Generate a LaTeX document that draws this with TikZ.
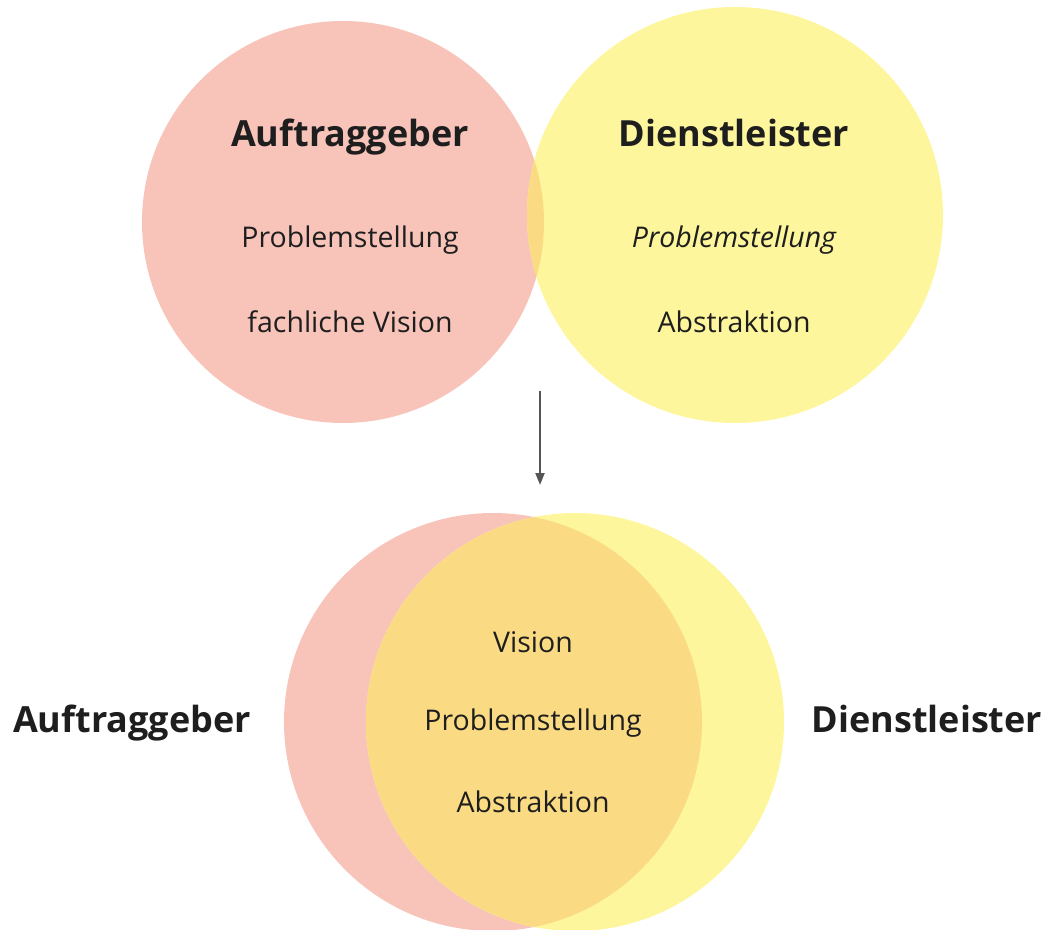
\documentclass[tikz,border=0pt]{standalone}
\usepackage{fontspec}
\setmainfont{Open Sans}
\usetikzlibrary{arrows.meta}
\definecolor{pinkc}{HTML}{F8C4B9}
\definecolor{yellowc}{HTML}{FEF69C}
\definecolor{overc}{HTML}{FADB84}
\definecolor{txt}{HTML}{1E1E1E}
\definecolor{arrowc}{HTML}{555555}
\tikzset{
  title/.style={anchor=base, font=\fontsize{36}{40}\selectfont\bfseries, text=txt},
  item/.style={anchor=base, font=\fontsize{28.5}{32}\selectfont, text=txt},
  itemit/.style={anchor=base, font=\fontsize{28.5}{32}\selectfont\itshape, text=txt},
  conn/.style={draw=arrowc, line width=2pt, -{Triangle[length=12pt,width=9pt]}}
}
\begin{document}
\begin{tikzpicture}[x=1pt,y=-1pt]
\useasboundingbox (0,0) rectangle (1046,929);
\clip (0,0) rectangle (1046,929);
% top circles
\fill[pinkc] (343,222) circle (201);
\fill[yellowc] (735,215) circle (208);
\begin{scope}
  \clip (343,222) circle (201);
  \fill[overc] (735,215) circle (208);
\end{scope}
% bottom circles
\fill[pinkc] (493,722) circle (209);
\fill[yellowc] (575,722) circle (209);
\begin{scope}
  \clip (493,722) circle (209);
  \fill[overc] (575,722) circle (209);
\end{scope}
% top texts
\node[title] (a1) at (350,146) {Auftraggeber};
\node[item] (a2) at (350,247) {Problemstellung};
\node[item] (a3) at (350,332) {fachliche Vision};
\node[title] (d1) at (734,146) {Dienstleister};
\node[itemit] (d2) at (734,247) {Problemstellung};
\node[item] (d3) at (734,332) {Abstraktion};
% arrow
\coordinate (s) at (540,391);
\coordinate (e) at (540,485);
\draw[conn] (s) -- (e);
% bottom texts
\node[title] (b1) at (132,732) {Auftraggeber};
\node[title] (b2) at (927,732) {Dienstleister};
\node[item] (c1) at (533,652) {Vision};
\node[item] (c2) at (533,730) {Problemstellung};
\node[item] (c3) at (533,812) {Abstraktion};
\end{tikzpicture}
\end{document}
